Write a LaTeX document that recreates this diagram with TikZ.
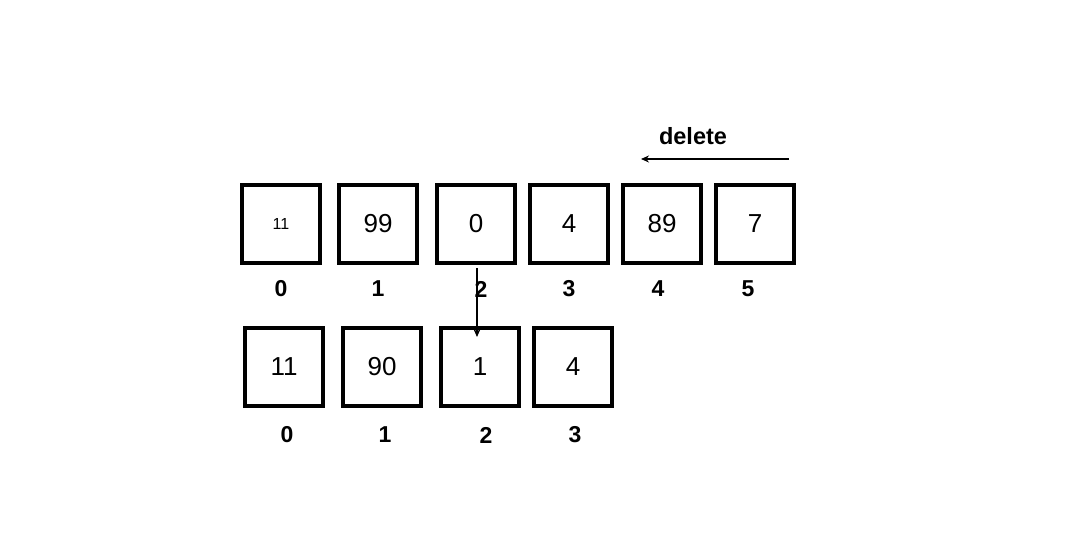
\documentclass[tikz,border=0pt]{standalone}
\usepackage{fontspec}
\setmainfont{Liberation Sans}
\usetikzlibrary{arrows.meta}
\begin{document}
\begin{tikzpicture}[x=1pt,y=-1pt,
  cell/.style={draw,line width=4pt,minimum size=78pt,inner sep=0pt,font=\fontsize{26}{30}\selectfont},
  idx/.style={inner sep=0pt,font=\bfseries\fontsize{23}{27}\selectfont},
  conn/.style={line width=1.8pt,-{Stealth[length=8pt,width=7pt]}}]
\useasboundingbox (0,0) rectangle (1065,548);
\node[cell] (t0) at (281,224) {\fontsize{16}{19}\selectfont 11};
\node[cell] (t1) at (378,224) {99};
\node[cell] (t2) at (476,224) {0};
\node[cell] (t3) at (569,224) {4};
\node[cell] (t4) at (662,224) {89};
\node[cell] (t5) at (755,224) {7};
\node[idx] (ti0) at (281,289) {0};
\node[idx] (ti1) at (378,289) {1};
\node[idx] (ti2) at (481,289) {2};
\node[idx] (ti3) at (569,289) {3};
\node[idx] (ti4) at (658,289) {4};
\node[idx] (ti5) at (748,289) {5};
\node[cell] (b0) at (284,367) {11};
\node[cell] (b1) at (382,367) {90};
\node[cell] (b2) at (480,367) {1};
\node[cell] (b3) at (573,367) {4};
\node[idx] (bi0) at (287,435) {0};
\node[idx] (bi1) at (385,435) {1};
\node[idx] (bi2) at (486,435) {2};
\node[idx] (bi3) at (575,435) {3};
\node[inner sep=0pt,font=\bfseries\fontsize{23.5}{27}\selectfont] (del) at (693,136) {delete};
\coordinate (ds) at (789,159);
\coordinate (de) at (641,159);
\coordinate (vs) at (477,268);
\coordinate (ve) at (477,337);
\draw[conn] (ds) -- (de);
\draw[conn] (vs) -- (ve);
\end{tikzpicture}
\end{document}
